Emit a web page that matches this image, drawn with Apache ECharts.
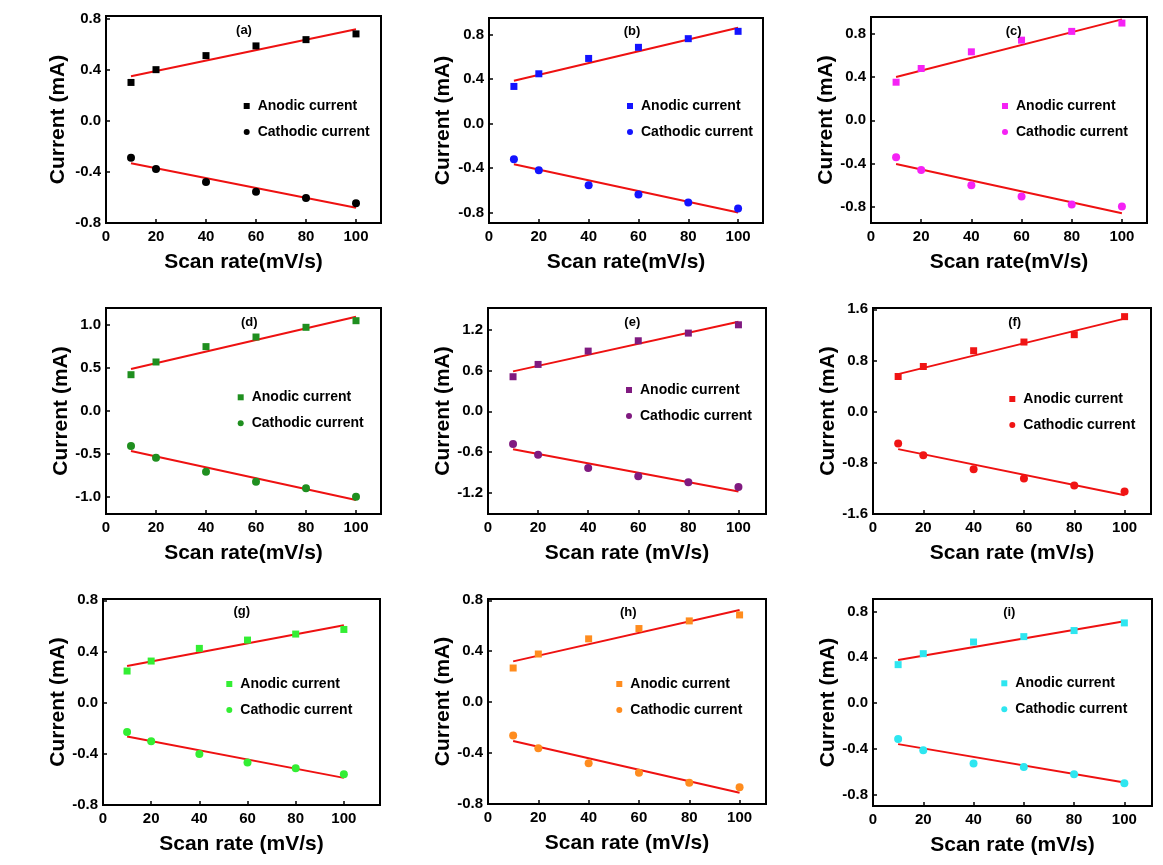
<!DOCTYPE html>
<html><head><meta charset="utf-8">
<script src="https://cdn.jsdelivr.net/npm/echarts@6/dist/echarts.min.js"></script>
<style>html,body{margin:0;padding:0;background:#fff}#c{width:1163px;height:865px}</style>
</head><body><div id="c"></div>
<script>
// ---------- DATA ----------
const scanRates = [10, 20, 40, 60, 80, 100];
const panelLabels = ['(a)', '(b)', '(c)', '(d)', '(e)', '(f)', '(g)', '(h)', '(i)'];
const seriesNames = ['Anodic current', 'Cathodic current'];
const yAxisTitle = 'Current (mA)';
const xAxisTitles = ['Scan rate(mV/s)', 'Scan rate(mV/s)', 'Scan rate(mV/s)', 'Scan rate(mV/s)',
  'Scan rate (mV/s)', 'Scan rate (mV/s)', 'Scan rate (mV/s)', 'Scan rate (mV/s)', 'Scan rate (mV/s)'];

const anodicA = [0.30, 0.40, 0.51, 0.586, 0.635, 0.68];
const anodicB = [0.334, 0.448, 0.586, 0.686, 0.764, 0.83];
const anodicC = [0.352, 0.479, 0.633, 0.741, 0.822, 0.899];
const anodicD = [0.423, 0.571, 0.75, 0.862, 0.975, 1.052];
const anodicE = [0.509, 0.69, 0.886, 1.038, 1.151, 1.273];
const anodicF = [0.549, 0.706, 0.952, 1.088, 1.203, 1.485];
const anodicG = [0.247, 0.325, 0.424, 0.489, 0.536, 0.572];
const anodicH = [0.268, 0.378, 0.497, 0.578, 0.638, 0.685];
const anodicI = [0.336, 0.432, 0.534, 0.581, 0.634, 0.701];

const cathodicA = [-0.29, -0.378, -0.48, -0.555, -0.604, -0.646];
const cathodicB = [-0.322, -0.421, -0.556, -0.638, -0.71, -0.764];
const cathodicC = [-0.343, -0.46, -0.602, -0.704, -0.778, -0.797];
const cathodicD = [-0.408, -0.544, -0.707, -0.823, -0.901, -0.998];
const cathodicE = [-0.48, -0.637, -0.833, -0.955, -1.043, -1.112];
const cathodicF = [-0.497, -0.68, -0.9, -1.046, -1.156, -1.25];
const cathodicG = [-0.229, -0.302, -0.401, -0.468, -0.512, -0.559];
const cathodicH = [-0.263, -0.362, -0.479, -0.555, -0.633, -0.669];
const cathodicI = [-0.315, -0.412, -0.528, -0.558, -0.622, -0.701];

// linear-fit lines, read at x = 10 and x = 100
const fitX = [10, 100];
const anodicFitA = [0.349, 0.716], cathodicFitA = [-0.333, -0.68];
const anodicFitB = [0.385, 0.863], cathodicFitB = [-0.367, -0.80];
const anodicFitC = [0.40, 0.933],  cathodicFitC = [-0.405, -0.859];
const anodicFitD = [0.489, 1.099], cathodicFitD = [-0.466, -1.037];
const anodicFitE = [0.588, 1.317], cathodicFitE = [-0.558, -1.18];
const anodicFitF = [0.586, 1.454], cathodicFitF = [-0.586, -1.307];
const anodicFitG = [0.286, 0.604], cathodicFitG = [-0.265, -0.588];
const anodicFitH = [0.32, 0.724],  cathodicFitH = [-0.305, -0.711];
const anodicFitI = [0.377, 0.715], cathodicFitI = [-0.359, -0.695];

const xTicks = [0, 20, 40, 60, 80, 100];
const yTicks08 = [-0.8, -0.4, 0, 0.4, 0.8];
const yTicks10 = [-1.0, -0.5, 0, 0.5, 1.0];
const yTicks12 = [-1.2, -0.6, 0, 0.6, 1.2];
const yTicks16 = [-1.6, -0.8, 0, 0.8, 1.6];

// ---------- LAYOUT / STYLE ----------
const anodicAll = [anodicA, anodicB, anodicC, anodicD, anodicE, anodicF, anodicG, anodicH, anodicI];
const cathodicAll = [cathodicA, cathodicB, cathodicC, cathodicD, cathodicE, cathodicF, cathodicG, cathodicH, cathodicI];
const anodicFits = [anodicFitA, anodicFitB, anodicFitC, anodicFitD, anodicFitE, anodicFitF, anodicFitG, anodicFitH, anodicFitI];
const cathodicFits = [cathodicFitA, cathodicFitB, cathodicFitC, cathodicFitD, cathodicFitE, cathodicFitF, cathodicFitG, cathodicFitH, cathodicFitI];
const yTickSets = [yTicks08, yTicks08, yTicks08, yTicks10, yTicks12, yTicks16, yTicks08, yTicks08, yTicks08];
const yRanges = [[-0.8, 0.82], [-0.895, 0.95], [-0.95, 0.955], [-1.2, 1.2], [-1.51, 1.52], [-1.6, 1.62], [-0.8, 0.81], [-0.8, 0.81], [-0.9, 0.91]];
const xMaxes = [110, 110, 110, 110, 111, 110.5, 115, 110.5, 111];
const gridBoxes = [
  [106, 16, 275, 207], [489, 18, 274, 205], [871, 17, 276, 206],
  [106, 308, 275, 206], [488, 308, 278, 206], [873, 308, 278, 206],
  [103, 599, 277, 206], [488, 599, 278, 205], [873, 599, 279, 207]
];
const yNameGaps = [37, 35, 32, 31, 33, 32, 34, 34, 34];
const colors = ['#000000', '#1414ff', '#f522f5', '#1f8f1f', '#801a80', '#f01414', '#33ee33', '#ff8c1e', '#2ee6f0'];
const legendPos = [[246.7, 106], [630, 106], [1005, 106], [240.7, 397.3], [629, 390], [1012.3, 399], [229.3, 684], [619.3, 684], [1004.3, 683.3]];
const titlePos = [[244, 30.5], [632, 31.7], [1013.7, 31.7], [249.3, 322.3], [632.3, 322.3], [1014.7, 322.3], [241.7, 611.7], [628.3, 612.3], [1009.3, 612.3]];
const FONT = '"Liberation Sans", Arial, Helvetica, sans-serif';
const FIT_COLOR = '#ee1111';

const grids = [], xAxes = [], yAxes = [], series = [], legends = [], graphics = [];
for (let i = 0; i < 9; i++) {
  const [l, t, w, h] = gridBoxes[i];
  grids.push({ left: l, top: t, width: w, height: h, show: true, borderColor: '#000', borderWidth: 2, backgroundColor: 'transparent', containLabel: false });
  xAxes.push({
    gridIndex: i, type: 'value', min: 0, max: xMaxes[i],
    name: xAxisTitles[i], nameLocation: 'middle', nameGap: 29,
    nameTextStyle: { fontFamily: FONT, fontWeight: 'bold', fontSize: 21, color: '#000' },
    axisLine: { show: true, onZero: false, lineStyle: { color: '#000', width: 2 } },
    axisTick: { show: true, inside: true, length: 4, lineStyle: { color: '#000', width: 1.5 }, customValues: xTicks },
    axisLabel: { color: '#000', fontFamily: FONT, fontWeight: 'bold', fontSize: 15, margin: 6, customValues: xTicks },
    splitLine: { show: false }
  });
  yAxes.push({
    gridIndex: i, type: 'value', min: yRanges[i][0], max: yRanges[i][1],
    name: yAxisTitle, nameLocation: 'middle', nameGap: yNameGaps[i],
    nameTextStyle: { fontFamily: FONT, fontWeight: 'bold', fontSize: 21, color: '#000' },
    axisLine: { show: true, onZero: false, lineStyle: { color: '#000', width: 2 } },
    axisTick: { show: true, inside: true, length: 4, lineStyle: { color: '#000', width: 1.5 }, customValues: yTickSets[i] },
    axisLabel: { color: '#000', fontFamily: FONT, fontWeight: 'bold', fontSize: 15, margin: 5, customValues: yTickSets[i],
      formatter: v => Number(v).toFixed(1) },
    splitLine: { show: false }
  });
  const id = panelLabels[i];
  series.push({
    name: id + '|' + seriesNames[0], type: 'scatter', xAxisIndex: i, yAxisIndex: i, symbol: 'rect', symbolSize: 7, z: 5,
    itemStyle: { color: colors[i], opacity: 1 }, data: scanRates.map((x, k) => [x, anodicAll[i][k]])
  });
  series.push({
    name: id + '|' + seriesNames[1], type: 'scatter', xAxisIndex: i, yAxisIndex: i, symbol: 'circle', symbolSize: 8, z: 5,
    itemStyle: { color: colors[i], opacity: 1 }, data: scanRates.map((x, k) => [x, cathodicAll[i][k]])
  });
  series.push({
    name: id + '|fitA', type: 'line', xAxisIndex: i, yAxisIndex: i, showSymbol: false, symbol: 'none', z: 3, silent: true,
    lineStyle: { color: FIT_COLOR, width: 2 }, data: fitX.map((x, k) => [x, anodicFits[i][k]])
  });
  series.push({
    name: id + '|fitC', type: 'line', xAxisIndex: i, yAxisIndex: i, showSymbol: false, symbol: 'none', z: 3, silent: true,
    lineStyle: { color: FIT_COLOR, width: 2 }, data: fitX.map((x, k) => [x, cathodicFits[i][k]])
  });
  legends.push({
    left: legendPos[i][0] - 3, top: legendPos[i][1] - 7, orient: 'vertical', padding: 0, itemGap: 12,
    itemWidth: 6, itemHeight: 6, selectedMode: false,
    data: [{ name: id + '|' + seriesNames[0], icon: 'rect' }, { name: id + '|' + seriesNames[1], icon: 'circle' }],
    formatter: n => n.split('|')[1],
    itemStyle: { opacity: 1 },
    textStyle: { fontFamily: FONT, fontWeight: 'bold', fontSize: 14, color: '#000', padding: [0, 0, 0, 3] }
  });
  graphics.push({
    type: 'text', x: titlePos[i][0], y: titlePos[i][1], z: 10,
    style: { text: id, fontFamily: FONT, fontWeight: 'bold', fontSize: 13, fill: '#000', align: 'center', verticalAlign: 'middle' }
  });
}

const chart = echarts.init(document.getElementById('c'), null, { renderer: 'canvas' });
chart.setOption({
  animation: false,
  backgroundColor: '#ffffff',
  grid: grids, xAxis: xAxes, yAxis: yAxes, series: series, legend: legends, graphic: graphics
});
</script>
</body></html>
